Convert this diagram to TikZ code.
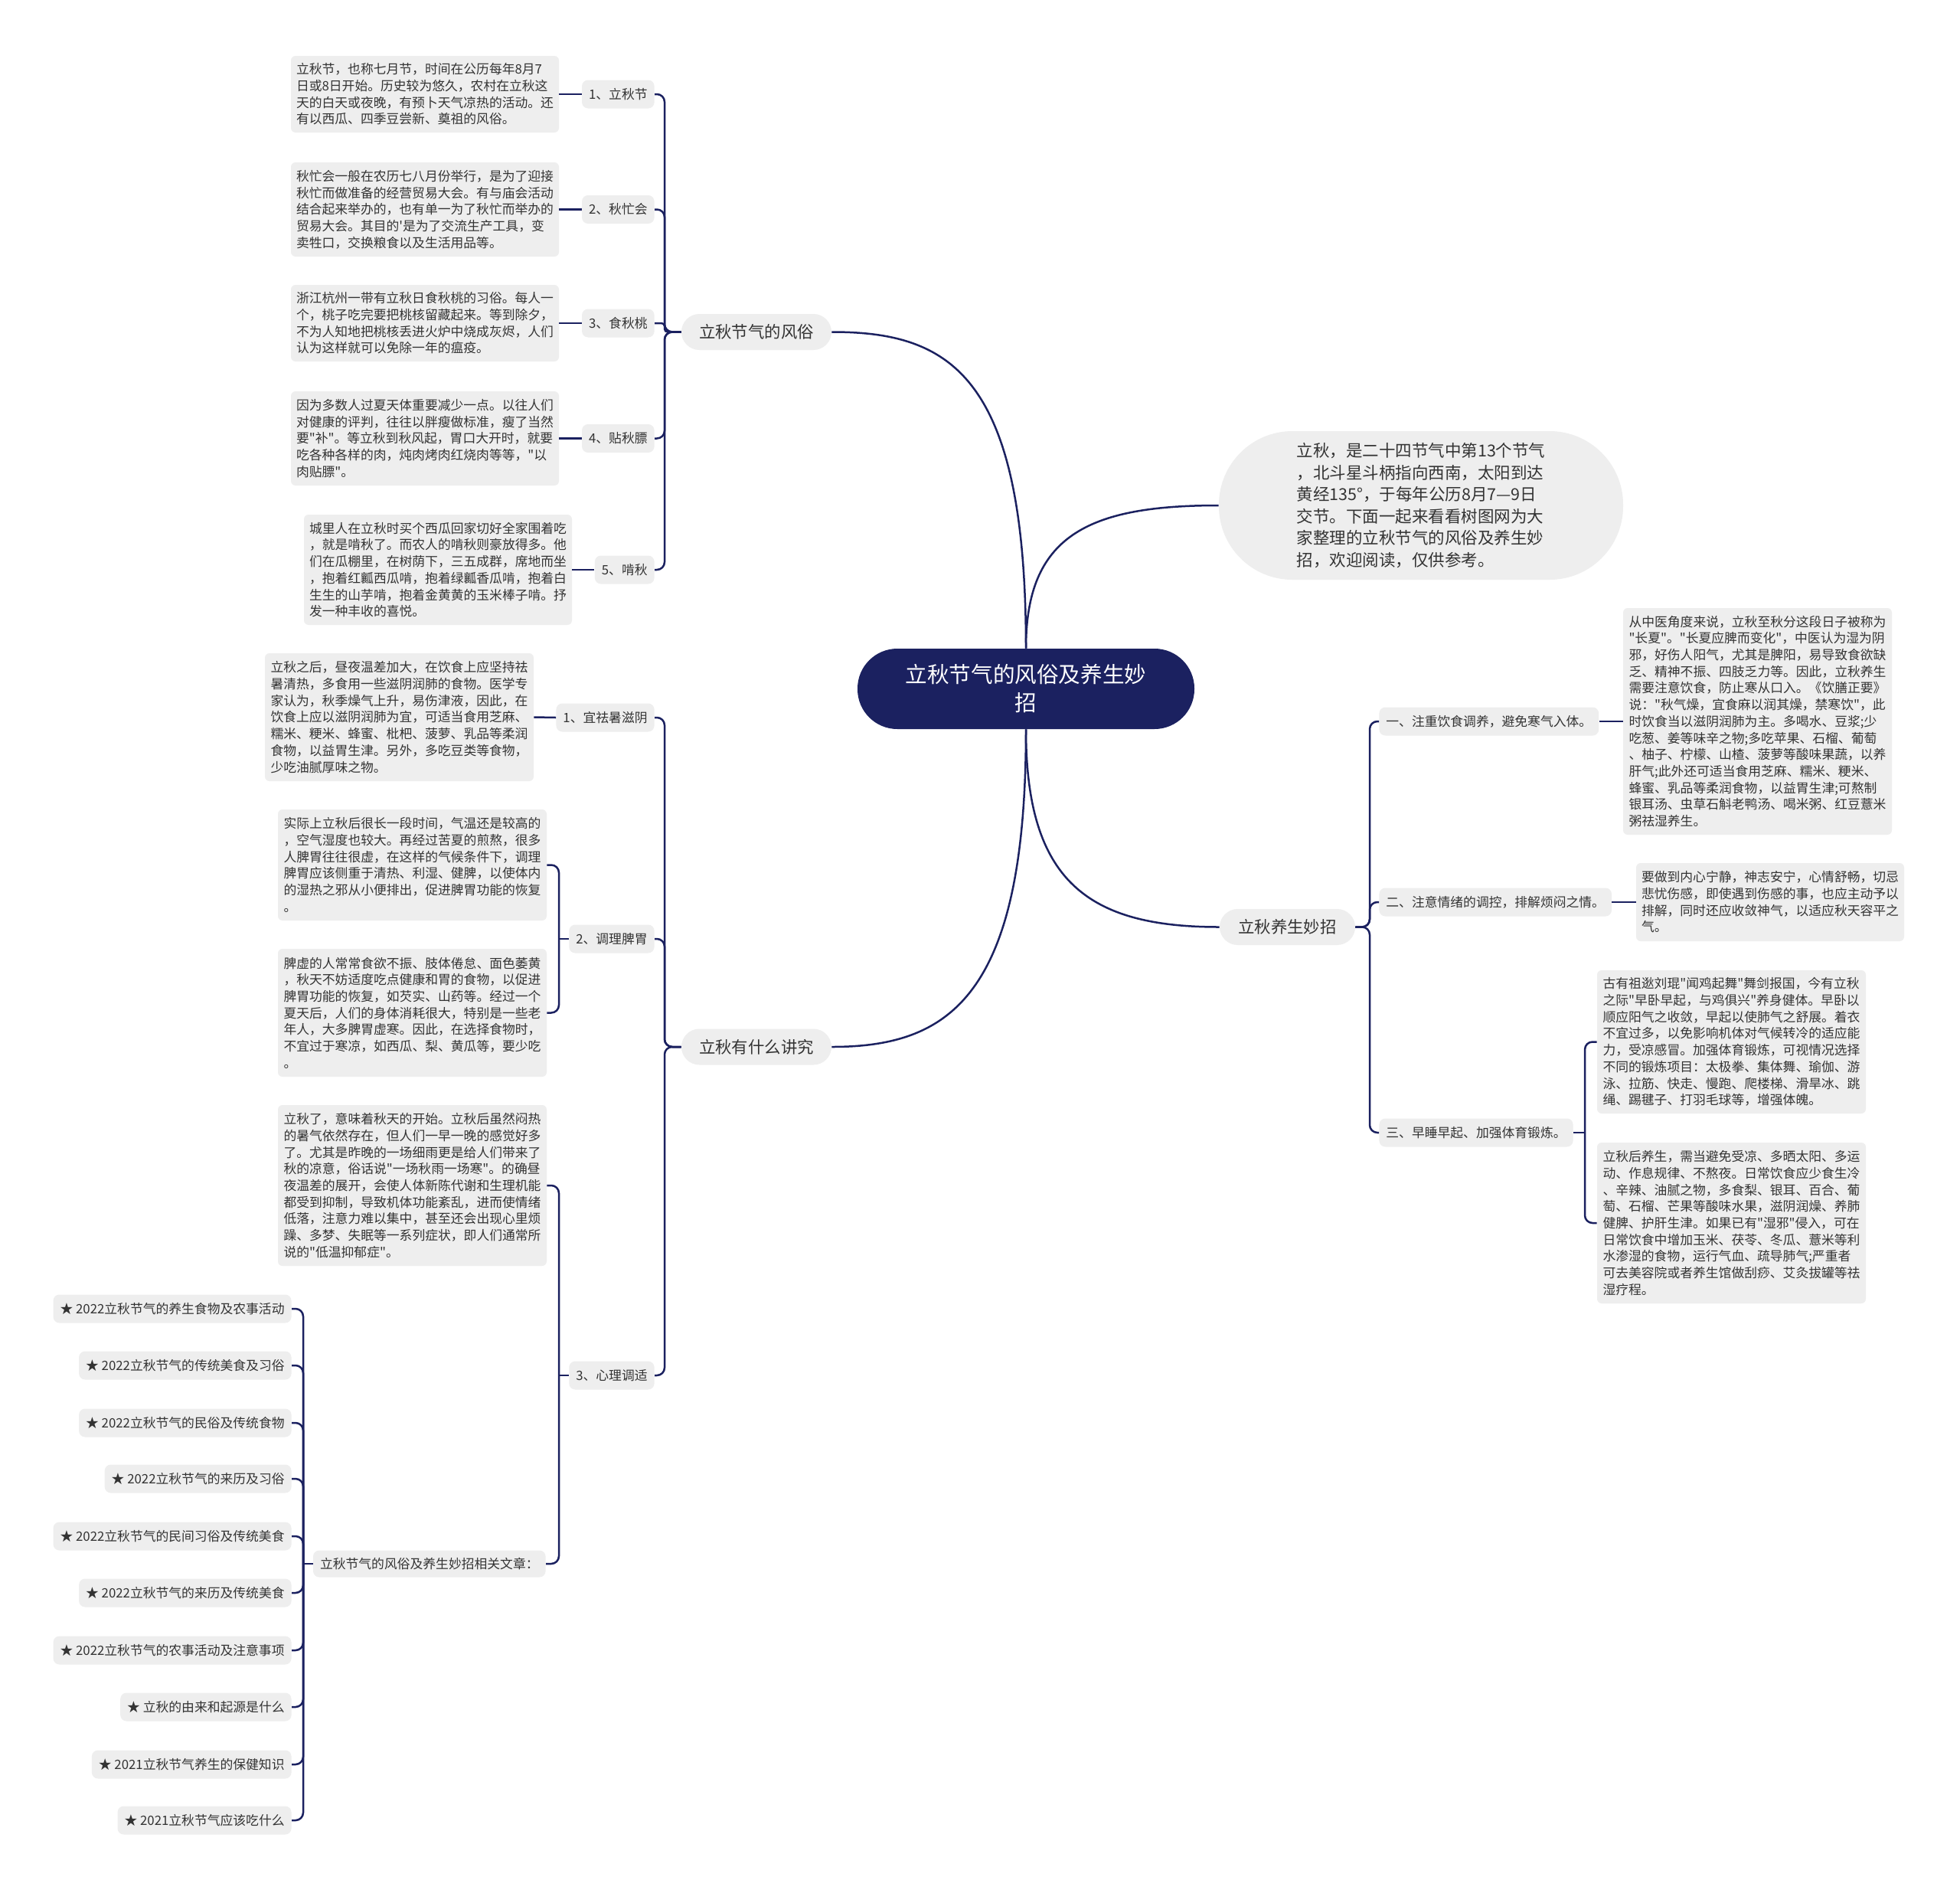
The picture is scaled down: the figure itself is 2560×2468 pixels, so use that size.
\documentclass[tikz,border=0pt]{standalone}
\usepackage{fontspec}
\newfontfamily\cjk{Noto Sans CJK SC}
\definecolor{navy}{HTML}{1B2160}
\definecolor{boxg}{HTML}{EEEEEE}
\definecolor{txt}{HTML}{333333}
\tikzset{
 conn/.style={draw=navy, line width=1.25pt},
 spine/.style={conn, rounded corners=5pt},
 leaf/.style={fill=boxg, rounded corners=3pt, text=txt, align=left, inner sep=0pt, font=\cjk\fontsize{8.4pt}{10.85pt}\selectfont},
 lab/.style={fill=boxg, rounded corners=4pt, text=txt, inner xsep=4.5pt, inner ysep=0pt, minimum height=18.5pt, font=\cjk\fontsize{8.4pt}{10.85pt}\selectfont},
 branch/.style={fill=boxg, rounded corners=11.75pt, text=txt, minimum height=23.5pt, inner xsep=0pt, font=\cjk\fontsize{10.7pt}{13pt}\selectfont},
}
\begin{document}
\begin{tikzpicture}[x=0.5pt,y=-0.5pt]
\fill[white] (0,0) rectangle (2560,2468);
\useasboundingbox (0,0) rectangle (2560,2468);

% root
\node[fill=navy, text=white, rounded corners=26pt, minimum width=220pt, minimum height=52.5pt, align=center, inner sep=0pt, font=\cjk\fontsize{14.3pt}{18.5pt}\selectfont] (root) at (1340,899.5) {立秋节气的风俗及养生妙\\招};

% intro
\node[fill=boxg, rounded corners=48pt, minimum width=264pt, minimum height=97pt, inner sep=0pt, text=txt, align=left, font=\cjk\fontsize{10.75pt}{14.3pt}\selectfont] (intro) at (1856,660) {立秋，是二十四节气中第13个节气\\，北斗星斗柄指向西南，太阳到达\\黄经135°，于每年公历8月7—9日\\交节。下面一起来看看树图网为大\\家整理的立秋节气的风俗及养生妙\\招，欢迎阅读，仅供参考。};

% branches
\node[branch, minimum width=98pt] (b1) at (988,433.5) {立秋节气的风俗};
\node[branch, minimum width=98pt] (b2) at (988,1367) {立秋有什么讲究};
\node[branch, minimum width=88.5pt] (b3) at (1681.5,1210.5) {立秋养生妙招};

\draw[conn] (root.north) .. controls (1340,490) and (1241,433.5) .. (b1.east);
\draw[conn] (root.south) .. controls (1340,1300) and (1241,1367) .. (b2.east);
\draw[conn] (root.north) .. controls (1340,700) and (1420,660) .. (intro.west);
\draw[conn] (root.south) .. controls (1340,1150) and (1420,1210.5) .. (b3.west);

% ---------- upper-left branch ----------
\node[lab, anchor=east] (t1) at (855,123) {1、立秋节};
\node[lab, anchor=east] (t2) at (855,273.5) {2、秋忙会};
\node[lab, anchor=east] (t3) at (855,422) {3、食秋桃};
\node[lab, anchor=east] (t4) at (855,572.5) {4、贴秋膘};
\node[lab, anchor=east] (t5) at (855,744) {5、啃秋};

\node[leaf, minimum width=175pt, minimum height=50pt] (l1) at (555,123) {立秋节，也称七月节，时间在公历每年8月7\\日或8日开始。历史较为悠久，农村在立秋这\\天的白天或夜晚，有预卜天气凉热的活动。还\\有以西瓜、四季豆尝新、奠祖的风俗。};
\node[leaf, minimum width=175pt, minimum height=61.5pt] (l2) at (555,273.5) {秋忙会一般在农历七八月份举行，是为了迎接\\秋忙而做准备的经营贸易大会。有与庙会活动\\结合起来举办的，也有单一为了秋忙而举办的\\贸易大会。其目的'是为了交流生产工具，变\\卖牲口，交换粮食以及生活用品等。};
\node[leaf, minimum width=175pt, minimum height=50pt] (l3) at (555,422) {浙江杭州一带有立秋日食秋桃的习俗。每人一\\个，桃子吃完要把桃核留藏起来。等到除夕，\\不为人知地把桃核丢进火炉中烧成灰烬，人们\\认为这样就可以免除一年的瘟疫。};
\node[leaf, minimum width=175pt, minimum height=61.5pt] (l4) at (555,572.5) {因为多数人过夏天体重要减少一点。以往人们\\对健康的评判，往往以胖瘦做标准，瘦了当然\\要"补"。等立秋到秋风起，胃口大开时，就要\\吃各种各样的肉，炖肉烤肉红烧肉等等，"以\\肉贴膘"。};
\node[leaf, minimum width=175pt, minimum height=72pt] (l5) at (572,744) {城里人在立秋时买个西瓜回家切好全家围着吃\\，就是啃秋了。而农人的啃秋则豪放得多。他\\们在瓜棚里，在树荫下，三五成群，席地而坐\\，抱着红瓤西瓜啃，抱着绿瓤香瓜啃，抱着白\\生生的山芋啃，抱着金黄黄的玉米棒子啃。抒\\发一种丰收的喜悦。};

\coordinate (s1) at (868,433.5);
\draw[spine] (b1.west) -- (s1) |- (t1.east);
\draw[spine] (b1.west) -- (s1) |- (t2.east);
\draw[conn, rounded corners=2pt] (b1.west) -- (s1) |- (t3.east);
\draw[spine] (b1.west) -- (s1) |- (t4.east);
\draw[spine] (b1.west) -- (s1) |- (t5.east);
\draw[conn] (l1.east) -- (t1.west);
\draw[conn] (l2.east) -- (t2.west);
\draw[conn] (l3.east) -- (t3.west);
\draw[conn] (l4.east) -- (t4.west);
\draw[conn] (l5.east) -- (t5.west);

% ---------- lower-left branch ----------
\node[lab, anchor=east] (u1) at (855,937) {1、宜祛暑滋阴};
\node[lab, anchor=east] (u2) at (855,1226) {2、调理脾胃};
\node[lab, anchor=east] (u3) at (855,1796) {3、心理调适};

\node[leaf, minimum width=175.5pt, minimum height=83.5pt] (g1) at (521.5,936.5) {立秋之后，昼夜温差加大，在饮食上应坚持祛\\暑清热，多食用一些滋阴润肺的食物。医学专\\家认为，秋季燥气上升，易伤津液，因此，在\\饮食上应以滋阴润肺为宜，可适当食用芝麻、\\糯米、粳米、蜂蜜、枇杷、菠萝、乳品等柔润\\食物，以益胃生津。另外，多吃豆类等食物，\\少吃油腻厚味之物。};
\node[leaf, minimum width=175.5pt, minimum height=72.5pt] (g2a) at (538.5,1129.5) {实际上立秋后很长一段时间，气温还是较高的\\，空气湿度也较大。再经过苦夏的煎熬，很多\\人脾胃往往很虚，在这样的气候条件下，调理\\脾胃应该侧重于清热、利湿、健脾，以使体内\\的湿热之邪从小便排出，促进脾胃功能的恢复\\。};
\node[leaf, minimum width=175.5pt, minimum height=83.5pt] (g2b) at (538.5,1322.5) {脾虚的人常常食欲不振、肢体倦怠、面色萎黄\\，秋天不妨适度吃点健康和胃的食物，以促进\\脾胃功能的恢复，如芡实、山药等。经过一个\\夏天后，人们的身体消耗很大，特别是一些老\\年人，大多脾胃虚寒。因此，在选择食物时，\\不宜过于寒凉，如西瓜、梨、黄瓜等，要少吃\\。};
\node[leaf, minimum width=175.5pt, minimum height=105pt] (g3a) at (538.5,1548) {立秋了，意味着秋天的开始。立秋后虽然闷热\\的暑气依然存在，但人们一早一晚的感觉好多\\了。尤其是昨晚的一场细雨更是给人们带来了\\秋的凉意，俗话说"一场秋雨一场寒"。的确昼\\夜温差的展开，会使人体新陈代谢和生理机能\\都受到抑制，导致机体功能紊乱，进而使情绪\\低落，注意力难以集中，甚至还会出现心里烦\\躁、多梦、失眠等一系列症状，即人们通常所\\说的"低温抑郁症"。};
\node[lab, anchor=east, minimum height=17.5pt] (rel) at (713,2042) {立秋节气的风俗及养生妙招相关文章：};

\coordinate (s2) at (868,1367);
\draw[spine] (b2.west) -- (s2) |- (u1.east);
\draw[spine] (b2.west) -- (s2) |- (u2.east);
\draw[spine] (b2.west) -- (s2) |- (u3.east);
\draw[conn] (g1.east) -- (u1.west);

\coordinate (s4) at (730,1226);
\draw[conn] (u2.west) -- (s4);
\draw[spine] (g2a.east) -| (s4) |- (g2b.east);

\coordinate (s5) at (730,1796);
\draw[conn] (u3.west) -- (s5);
\draw[spine] (g3a.east) -| (s5) |- (rel.east);

% related articles
\node[lab, anchor=east] (i1) at (381,1709) {★ 2022立秋节气的养生食物及农事活动};
\node[lab, anchor=east] (i2) at (381,1783) {★ 2022立秋节气的传统美食及习俗};
\node[lab, anchor=east] (i3) at (381,1858) {★ 2022立秋节气的民俗及传统食物};
\node[lab, anchor=east] (i4) at (381,1931) {★ 2022立秋节气的来历及习俗};
\node[lab, anchor=east] (i5) at (381,2006) {★ 2022立秋节气的民间习俗及传统美食};
\node[lab, anchor=east] (i6) at (381,2080) {★ 2022立秋节气的来历及传统美食};
\node[lab, anchor=east] (i7) at (381,2155) {★ 2022立秋节气的农事活动及注意事项};
\node[lab, anchor=east] (i8) at (381,2229) {★ 立秋的由来和起源是什么};
\node[lab, anchor=east] (i9) at (381,2304) {★ 2021立秋节气养生的保健知识};
\node[lab, anchor=east] (i10) at (381,2377) {★ 2021立秋节气应该吃什么};

\coordinate (s6) at (396,2042);
\draw[conn] (rel.west) -- (s6);
\foreach \n in {i1,i2,i3,i4,i5,i6,i7,i8,i9,i10}{
  \draw[spine] (s6) |- (\n.east);
}

% ---------- right branch ----------
\node[lab, anchor=west] (r1) at (1801,942) {一、注重饮食调养，避免寒气入体。};
\node[lab, anchor=west] (r2) at (1801,1178) {二、注意情绪的调控，排解烦闷之情。};
\node[lab, anchor=west] (r3) at (1801,1479) {三、早睡早起、加强体育锻炼。};

\node[leaf, minimum width=175.5pt, minimum height=148pt] (rl1) at (2295.5,942) {从中医角度来说，立秋至秋分这段日子被称为\\"长夏"。"长夏应脾而变化"，中医认为湿为阴\\邪，好伤人阳气，尤其是脾阳，易导致食欲缺\\乏、精神不振、四肢乏力等。因此，立秋养生\\需要注意饮食，防止寒从口入。《饮膳正要》\\说："秋气燥，宜食麻以润其燥，禁寒饮"，此\\时饮食当以滋阴润肺为主。多喝水、豆浆;少\\吃葱、姜等味辛之物;多吃苹果、石榴、葡萄\\、柚子、柠檬、山楂、菠萝等酸味果蔬，以养\\肝气;此外还可适当食用芝麻、糯米、粳米、\\蜂蜜、乳品等柔润食物，以益胃生津;可熬制\\银耳汤、虫草石斛老鸭汤、喝米粥、红豆薏米\\粥祛湿养生。};
\node[leaf, minimum width=175pt, minimum height=51pt] (rl2) at (2312,1178) {要做到内心宁静，神志安宁，心情舒畅，切忌\\悲忧伤感，即使遇到伤感的事，也应主动予以\\排解，同时还应收敛神气，以适应秋天容平之\\气。};
\node[leaf, minimum width=175.5pt, minimum height=93.5pt] (rl3a) at (2261.5,1360.5) {古有祖逖刘琨"闻鸡起舞"舞剑报国，今有立秋\\之际"早卧早起，与鸡俱兴"养身健体。早卧以\\顺应阳气之收敛，早起以使肺气之舒展。着衣\\不宜过多，以免影响机体对气候转冷的适应能\\力，受凉感冒。加强体育锻炼，可视情况选择\\不同的锻炼项目：太极拳、集体舞、瑜伽、游\\泳、拉筋、快走、慢跑、爬楼梯、滑旱冰、跳\\绳、踢毽子、打羽毛球等，增强体魄。};
\node[leaf, minimum width=175.5pt, minimum height=105pt] (rl3b) at (2261.5,1597) {立秋后养生，需当避免受凉、多晒太阳、多运\\动、作息规律、不熬夜。日常饮食应少食生冷\\、辛辣、油腻之物，多食梨、银耳、百合、葡\\萄、石榴、芒果等酸味水果，滋阴润燥、养肺\\健脾、护肝生津。如果已有"湿邪"侵入，可在\\日常饮食中增加玉米、茯苓、冬瓜、薏米等利\\水渗湿的食物，运行气血、疏导肺气;严重者\\可去美容院或者养生馆做刮痧、艾灸拔罐等祛\\湿疗程。};

\coordinate (s3) at (1789,1210.5);
\draw[spine] (b3.east) -- (s3) |- (r1.west);
\draw[spine] (b3.east) -- (s3) |- (r2.west);
\draw[spine] (b3.east) -- (s3) |- (r3.west);
\draw[conn] (r1.east) -- (rl1.west);
\draw[conn] (r2.east) -- (rl2.west);

\coordinate (s7) at (2070,1479);
\draw[conn] (r3.east) -- (s7);
\draw[spine] (rl3a.west) -| (s7) |- (rl3b.west);
\end{tikzpicture}
\end{document}
